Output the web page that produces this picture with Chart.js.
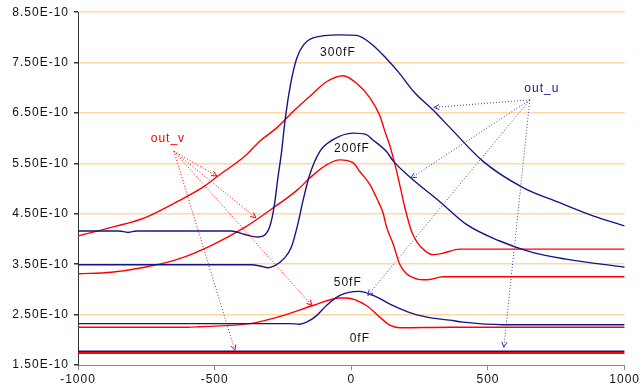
<!DOCTYPE html>
<html>
<head>
<meta charset="utf-8">
<script src="https://cdn.jsdelivr.net/npm/chart.js@4/dist/chart.umd.min.js"></script>
<style>
  html, body { margin: 0; padding: 0; background: #fff; }
  #wrap { width: 642px; height: 392px; }
</style>
</head>
<body>
<div id="wrap"><canvas id="capChart" width="642" height="392"></canvas></div>
<script>
// y values are in units of 1e-10 (axis labels add the "E-10")
const xTicks = [-1000, -500, 0, 500, 1000];
const yTicks = [1.5, 2.5, 3.5, 4.5, 5.5, 6.5, 7.5, 8.5];

// out_u (navy)
const u0x = [-1000, 1000];
const u0y = [1.77, 1.77];
const u50x = [-1000, -225, -190, -164, -127, -91, -42, 28, 80, 153, 225, 298, 360, 408, 554, 1000];
const u50y = [2.32, 2.32, 2.31, 2.35, 2.48, 2.68, 2.88, 2.96, 2.88, 2.68, 2.52, 2.43, 2.39, 2.35, 2.30, 2.30];
const u200x = [-1000, -366, -330, -305, -280, -245, -220, -196, -176, -152, -115, -67, 7, 55, 80, 128, 153, 214, 324, 421, 543, 665, 787, 1000];
const u200y = [3.49, 3.49, 3.46, 3.43, 3.47, 3.62, 3.83, 4.29, 4.78, 5.28, 5.74, 5.97, 6.10, 6.07, 5.96, 5.74, 5.55, 5.23, 4.74, 4.29, 3.96, 3.73, 3.60, 3.44];
const u300x = [-1000, -850, -817, -785, -440, -390, -342, -305, -290, -281, -269, -255, -243, -225, -200, -176, -140, -42, 19, 80, 128, 171, 232, 299, 366, 482, 628, 762, 884, 1000];
const u300y = [4.16, 4.16, 4.13, 4.16, 4.16, 4.09, 4.04, 4.16, 4.42, 4.69, 5.20, 5.74, 6.33, 6.99, 7.58, 7.84, 7.99, 8.05, 8.04, 7.84, 7.58, 7.32, 6.90, 6.56, 6.18, 5.54, 5.02, 4.72, 4.46, 4.26];

// out_v (red)
const v0x = [-1000, 1000];
const v0y = [1.74, 1.74];
const v50x = [-1000, -600, -554, -371, -250, -140, -42, -18, 55, 104, 141, 177, 360, 1000];
const v50y = [2.25, 2.25, 2.26, 2.32, 2.48, 2.68, 2.83, 2.83, 2.68, 2.45, 2.29, 2.24, 2.25, 2.25];
const v200x = [-1000, -878, -756, -634, -513, -390, -293, -196, -152, -91, -42, 7, 31, 68, 98, 116, 128, 153, 177, 202, 238, 275, 336, 1000];
const v200y = [3.31, 3.34, 3.44, 3.60, 3.87, 4.23, 4.59, 4.98, 5.21, 5.47, 5.57, 5.51, 5.34, 5.08, 4.75, 4.52, 4.25, 3.90, 3.50, 3.31, 3.21, 3.19, 3.25, 3.25];
const v300x = [-1000, -878, -756, -634, -537, -488, -390, -335, -274, -213, -140, -91, -30, 19, 68, 104, 122, 141, 159, 177, 196, 220, 238, 269, 299, 330, 397, 1000];
const v300y = [4.06, 4.23, 4.42, 4.75, 5.05, 5.25, 5.64, 5.94, 6.20, 6.53, 6.89, 7.12, 7.24, 7.09, 6.80, 6.45, 6.15, 5.85, 5.49, 5.08, 4.62, 4.16, 3.96, 3.77, 3.69, 3.71, 3.80, 3.80];

// annotations
const capLabels = ['300fF', '200fF', '50fF', '0fF'];
const capLabelX = [-49, 2, -13, 31];
const capLabelY = [7.69, 5.80, 3.14, 2.03];

const outVText = 'out_v';
const outVTextPos = [-671, 6.00];
const outVFrom = [-649, 5.74];
const outVToX = [-492, -349, -144, -426];
const outVToY = [5.25, 4.42, 2.68, 1.79];

const outUText = 'out_u';
const outUTextPos = [697, 6.98];
const outUFrom = [653, 6.76];
const outUToX = [302, 218, 60, 558];
const outUToY = [6.61, 5.21, 2.88, 1.85];

const NAVY = '#14148a';
const RED = '#ff0000';
const FONT = '"Liberation Sans", Arial, sans-serif';

function pts(xs, ys) {
  return xs.map((x, i) => ({ x: x, y: ys[i] }));
}

function line(xs, ys, color, width) {
  return {
    data: pts(xs, ys),
    showLine: true,
    borderColor: color,
    borderWidth: width || 1.4,
    pointRadius: 0,
    cubicInterpolationMode: 'monotone',
    fill: false,
  };
}

const datasets = [
  line(u300x, u300y, NAVY),
  line(u200x, u200y, NAVY),
  line(u50x, u50y, NAVY),
  line(v300x, v300y, RED),
  line(v200x, v200y, RED),
  line(v50x, v50y, RED),
  line(v0x, v0y, RED, 2),
  line(u0x, u0y, NAVY, 1.6),
];

function drawArrow(c, x0, y0, x1, y1, color) {
  c.save();
  c.strokeStyle = color;
  c.lineWidth = 1;
  c.setLineDash([1, 2]);
  c.beginPath();
  c.moveTo(x0, y0);
  c.lineTo(x1, y1);
  c.stroke();
  c.setLineDash([]);
  const a = Math.atan2(y1 - y0, x1 - x0);
  const h = 6;
  c.beginPath();
  c.moveTo(x1 - h * Math.cos(a - 0.45), y1 - h * Math.sin(a - 0.45));
  c.lineTo(x1, y1);
  c.lineTo(x1 - h * Math.cos(a + 0.45), y1 - h * Math.sin(a + 0.45));
  c.stroke();
  c.restore();
}

// the original text is drawn wide, so space the letters out a little
const wideText = {
  id: 'wideText',
  beforeLayout(chart) { chart.ctx.letterSpacing = '1px'; },
  beforeDraw(chart) { chart.ctx.letterSpacing = '1px'; },
};

const notes = {
  id: 'notes',
  afterDatasetsDraw(chart) {
    const c = chart.ctx;
    const xs = chart.scales.x;
    const ys = chart.scales.y;
    c.save();
    c.letterSpacing = '1px';
    c.textAlign = 'center';
    c.textBaseline = 'middle';
    c.font = '12px ' + FONT;
    c.fillStyle = '#111';
    capLabels.forEach((t, i) => {
      c.fillText(t, xs.getPixelForValue(capLabelX[i]), ys.getPixelForValue(capLabelY[i]));
    });

    c.fillStyle = RED;
    c.fillText(outVText, xs.getPixelForValue(outVTextPos[0]), ys.getPixelForValue(outVTextPos[1]));
    outVToX.forEach((x, i) => {
      drawArrow(c, xs.getPixelForValue(outVFrom[0]), ys.getPixelForValue(outVFrom[1]),
        xs.getPixelForValue(x), ys.getPixelForValue(outVToY[i]), RED);
    });

    c.fillStyle = NAVY;
    c.fillText(outUText, xs.getPixelForValue(outUTextPos[0]), ys.getPixelForValue(outUTextPos[1]));
    outUToX.forEach((x, i) => {
      drawArrow(c, xs.getPixelForValue(outUFrom[0]), ys.getPixelForValue(outUFrom[1]),
        xs.getPixelForValue(x), ys.getPixelForValue(outUToY[i]), '#3a3aa8');
    });
    c.restore();
  },
};

new Chart(document.getElementById('capChart'), {
  type: 'scatter',
  data: { datasets: datasets },
  plugins: [wideText, notes],
  options: {
    responsive: false,
    animation: false,
    layout: { padding: { top: 10, right: 17, left: 0, bottom: 0 } },
    plugins: { legend: { display: false }, tooltip: { enabled: false } },
    scales: {
      x: {
        type: 'linear',
        min: xTicks[0],
        max: xTicks[xTicks.length - 1],
        afterBuildTicks(scale) {
          scale.ticks = xTicks.map(v => ({ value: v }));
        },
        afterFit(scale) { scale.height = 27; },
        ticks: {
          color: '#111',
          font: { family: FONT, size: 12 },
          padding: 2,
          maxRotation: 0,
          callback(value) { return String(value); },
        },
        grid: { drawOnChartArea: false, tickLength: 5, tickColor: '#888', lineWidth: 1 },
        border: { color: '#888', width: 1 },
      },
      y: {
        type: 'linear',
        min: yTicks[0],
        max: yTicks[yTicks.length - 1],
        afterBuildTicks(scale) {
          scale.ticks = yTicks.map(v => ({ value: v }));
        },
        afterFit(scale) { scale.width = 78; },
        ticks: {
          color: '#111',
          font: { family: FONT, size: 12 },
          padding: 5,
          callback(value) {
            return value.toFixed(2) + 'E-10';
          },
        },
        grid: {
          color(ctx) {
            return ctx.tick && ctx.tick.value === yTicks[0] ? 'rgba(0,0,0,0)' : '#ffd8a6';
          },
          lineWidth: 1.5,
          tickLength: 4,
          tickColor: '#333',
        },
        border: { color: '#333', width: 1 },
      },
    },
  },
});
</script>
</body>
</html>
